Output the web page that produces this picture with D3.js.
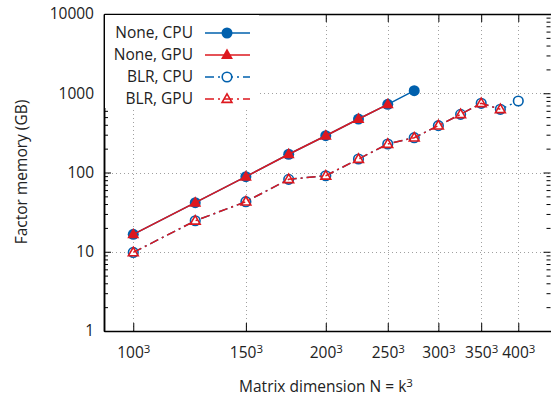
<!DOCTYPE html>
<html>
<head>
<meta charset="utf-8">
<script src="https://cdn.jsdelivr.net/npm/d3@7"></script>
<style>
  body { margin: 0; background: #fff; }
  svg { font-family: "Open Sans", "Noto Sans", sans-serif; }
</style>
</head>
<body>
<div id="chart"></div>
<script>
// matrix sizes k (N = k^3)
const kNone = [100, 125, 150, 175, 200, 225, 250, 275];
const kBlr = [100, 125, 150, 175, 200, 225, 250, 275, 300, 325, 350, 375, 400];
const kTicks = [100, 150, 200, 250, 300, 350, 400];

// factor memory in GB
const noneCpu = [16.6, 41.6, 88.5, 170, 291, 473, 725, 1077];
const noneGpu = [16.6, 41.6, 88.5, 170, 291, 473, 725];
const blrCpu = [9.8, 24.6, 42.8, 82, 91, 148, 229, 275, 390, 542, 747, 627, 798];
const blrGpu = [9.8, 24.6, 42.8, 82, 91, 148, 229, 275, 390, 542, 747, 627];

const yTicks = [1, 10, 100, 1000, 10000];

const blue = "#0060ad", red = "#dd181f";
const fontSize = "15.5px", supSize = "11.5px";

const width = 551, height = 399;
const plotL = 104, plotR = 551, plotT = 14, plotB = 331;

const svg = d3.select("#chart").append("svg")
  .attr("width", width).attr("height", height);

const x = d3.scaleLog().domain([90 ** 3, 450 ** 3]).range([plotL, plotR]);
const y = d3.scaleLog().domain([1, 10000]).range([plotB, plotT]);

// grid
const grid = svg.append("g").attr("stroke", "#a0a0a0").attr("stroke-dasharray", "1,3").attr("stroke-width", 1);
grid.selectAll("line.gx").data(kTicks).enter().append("line")
  .attr("x1", d => Math.round(x(d ** 3)) + 0.5).attr("x2", d => Math.round(x(d ** 3)) + 0.5)
  .attr("y1", plotT).attr("y2", plotB);
grid.selectAll("line.gy").data([10, 100, 1000]).enter().append("line")
  .attr("x1", plotL).attr("x2", plotR)
  .attr("y1", d => Math.round(y(d)) + 0.5).attr("y2", d => Math.round(y(d)) + 0.5);

// minor y ticks
const minor = [];
for (let e = 0; e < 4; e++) for (let m = 2; m <= 9; m++) minor.push(m * 10 ** e);

// axes
const xb = svg.append("g").attr("transform", `translate(0,${plotB})`)
  .call(d3.axisBottom(x).tickValues(kTicks.map(k => k ** 3)).tickSize(-8).tickSizeOuter(0).tickPadding(13).tickFormat(""));
const xt = svg.append("g").attr("transform", `translate(0,${plotT})`)
  .call(d3.axisTop(x).tickValues(kTicks.map(k => k ** 3)).tickSize(-8).tickSizeOuter(0).tickFormat(""));
const yl = svg.append("g").attr("transform", `translate(${plotL},0)`)
  .call(d3.axisLeft(y).tickValues(yTicks).tickSize(-7).tickSizeOuter(0).tickPadding(10).tickFormat(d3.format("d")));
const yr = svg.append("g").attr("transform", `translate(${plotR - 0.5},0)`)
  .call(d3.axisRight(y).tickValues(yTicks).tickSize(-7).tickSizeOuter(0).tickFormat(""));
const ylm = svg.append("g").attr("transform", `translate(${plotL},0)`)
  .call(d3.axisLeft(y).tickValues(minor).tickSize(-4).tickSizeOuter(0).tickFormat(""));
const yrm = svg.append("g").attr("transform", `translate(${plotR - 0.5},0)`)
  .call(d3.axisRight(y).tickValues(minor).tickSize(-4).tickSizeOuter(0).tickFormat(""));

[xb, xt, yl, yr, ylm, yrm].forEach(g => {
  g.selectAll("line").attr("stroke", "#000");
  g.select(".domain").attr("stroke", "#000").attr("stroke-width", 1.5);
  g.selectAll("text").attr("fill", "#222").style("font-size", fontSize).style("font-family", "'Open Sans', sans-serif");
});
yr.select(".domain").remove();
yrm.select(".domain").remove();

// x tick labels with superscript
xb.selectAll(".tick text").each(function (d) {
  const t = d3.select(this).attr("dy", "0.9em");
  t.text(null);
  t.append("tspan").text(Math.round(Math.cbrt(d)));
  t.append("tspan").attr("dy", "-0.45em").style("font-size", supSize).text("3");
});

// series
const line = d3.line().x(d => x(d[0] ** 3)).y(d => y(d[1]));
const zip = (ks, vs) => vs.map((v, i) => [ks[i], v]);
const dashDot = "9,4,2,4";

const series = [
  { data: zip(kNone, noneCpu), color: blue, dash: null, marker: "circle", fill: true },
  { data: zip(kNone, noneGpu), color: red, dash: null, marker: "triangle", fill: true },
  { data: zip(kBlr, blrCpu), color: blue, dash: dashDot, marker: "circle", fill: false },
  { data: zip(kBlr, blrGpu), color: red, dash: dashDot, marker: "triangle", fill: false }
];
const names = ["None, CPU", "None, GPU", "BLR, CPU", "BLR, GPU"];

const symCircle = d3.symbol().type(d3.symbolCircle).size(95);
const symCircleOpen = d3.symbol().type(d3.symbolCircle).size(72);
const symTri = d3.symbol().type(d3.symbolTriangle).size(62);
const symTriOpen = d3.symbol().type(d3.symbolTriangle).size(42);

function symbolPath(s) {
  if (s.marker === "circle") return s.fill ? symCircle() : symCircleOpen();
  return s.fill ? symTri() : symTriOpen();
}

function drawMarker(g, s, px, py) {
  const dyOff = s.marker === "triangle" ? 0.5 : 0;
  g.append("path").attr("d", symbolPath(s))
    .attr("transform", `translate(${px},${py + dyOff})`)
    .attr("fill", s.fill ? s.color : "#fff")
    .attr("fill-opacity", s.fill ? 1 : (s.marker === "circle" ? 1 : 0))
    .attr("stroke", s.color)
    .attr("stroke-width", s.fill ? 0 : 1.6);
}

series.forEach(s => {
  svg.append("path").datum(s.data).attr("d", line)
    .attr("fill", "none").attr("stroke", s.color).attr("stroke-width", 1.5)
    .attr("stroke-dasharray", s.dash);
  const g = svg.append("g");
  s.data.forEach(d => drawMarker(g, s, x(d[0] ** 3), y(d[1])));
});

// legend
const lg = svg.append("g");
lg.append("rect").attr("x", plotL + 1).attr("y", plotT + 1).attr("width", 154).attr("height", 93).attr("fill", "#fff");
series.forEach((s, i) => {
  const ly = 33 + i * 22;
  lg.append("text").attr("x", 193).attr("y", ly).attr("dy", "0.35em")
    .attr("text-anchor", "end").attr("fill", "#222").style("font-size", fontSize)
    .text(names[i]);
  lg.append("line").attr("x1", 205).attr("x2", 250).attr("y1", ly).attr("y2", ly)
    .attr("stroke", s.color).attr("stroke-width", 1.5).attr("stroke-dasharray", s.dash);
  drawMarker(lg, s, 227, ly);
});

// axis titles
svg.append("text").attr("x", 326).attr("y", 392).attr("text-anchor", "middle")
  .attr("fill", "#222").style("font-size", fontSize)
  .call(t => {
    t.append("tspan").text("Matrix dimension N = k");
    t.append("tspan").attr("dy", "-0.45em").style("font-size", supSize).text("3");
  });
svg.append("text").attr("transform", "translate(27,172) rotate(-90)").attr("text-anchor", "middle")
  .attr("fill", "#222").style("font-size", fontSize).text("Factor memory (GB)");
</script>
</body>
</html>
